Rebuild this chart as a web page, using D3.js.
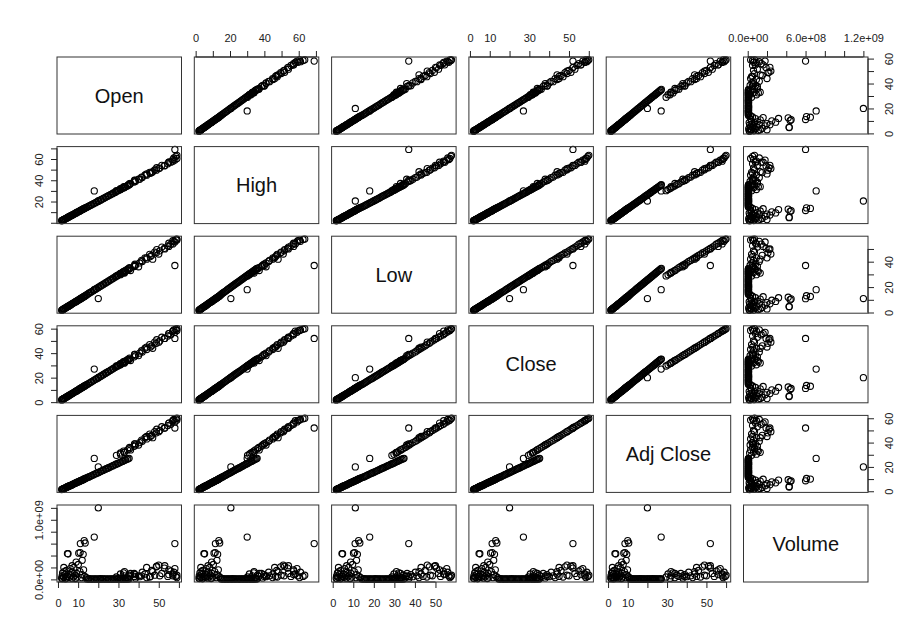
<!DOCTYPE html>
<html><head><meta charset="utf-8">
<script src="https://cdn.jsdelivr.net/npm/d3@7"></script>
<style>body{margin:0;background:#fff}svg{font-family:"Liberation Sans",Arial,sans-serif}</style>
</head><body><svg id="c" width="924" height="639"></svg>
<script>
const varNames = ["Open","High","Low","Close","Adj Close","Volume"];
const open = [1.8,2.1,2.2,2.3,2.7,2.9,3.0,3.5,3.7,4.1,4.2,4.7,4.9,5.4,5.6,6.1,6.3,6.9,7.1,7.7,7.9,8.5,8.7,9.3,9.5,10.1,10.3,10.9,11.1,11.7,11.9,12.5,12.7,13.3,13.5,14.1,
 14.4,15.1,15.5,16.3,16.7,17.5,17.9,18.7,19.1,19.9,20.3,21.1,21.5,22.3,22.7,23.5,23.9,24.7,25.1,25.9,26.3,27.1,27.5,28.3,28.7,29.5,29.9,30.7,31.1,31.9,32.3,33.1,33.5,34.3,34.7,35.3,
 29.0,31.0,31.0,32.8,32.5,34.5,35.5,35.5,37.8,38.5,38.2,40.5,41.8,41.5,44.0,43.2,45.8,46.5,45.5,48.8,48.0,50.5,49.0,52.8,51.5,54.5,56.0,55.0,58.0,57.0,59.0,57.5,58.5,59.0,
 18,20,58,
 36,40,47,50,53,55,57,44,38,33,
 5,11,13,3,9,12,7];
const high = [1.9,2.1,2.3,2.5,2.7,3.0,3.2,3.5,3.8,4.1,4.4,4.8,5.1,5.5,5.9,6.2,6.6,7.0,7.4,7.8,8.2,8.7,9.1,9.5,9.9,10.3,10.7,11.1,11.5,12.0,12.4,12.8,13.2,13.6,14.0,14.4,
 14.8,15.3,15.9,16.5,17.1,17.7,18.3,18.9,19.5,20.1,20.7,21.3,21.9,22.5,23.1,23.7,24.4,25.0,25.6,26.2,26.8,27.4,28.0,28.6,29.2,29.8,30.4,31.0,31.6,32.3,32.9,33.5,34.1,34.7,35.3,35.8,
 30.2,31.3,32.2,33.0,33.8,34.8,36.0,36.8,38.3,39.0,39.8,41.0,42.5,43.0,44.8,45.0,46.5,47.2,47.5,49.5,49.8,51.5,51.8,53.5,54.0,55.5,57.0,57.0,59.0,59.5,60.5,61.0,62.5,63.5,
 30,20.5,69,
 37,41,48,51,54,57,58,46,40,34,
 5.2,11.4,13.5,3.2,9.3,12.4,7.2];
const low = [1.7,1.9,2.1,2.3,2.5,2.8,3.0,3.3,3.6,3.9,4.2,4.5,4.8,5.1,5.5,5.8,6.2,6.6,7.0,7.4,7.8,8.1,8.5,8.9,9.3,9.7,10.1,10.5,10.9,11.3,11.6,12.0,12.4,12.8,13.2,13.6,
 14.2,14.8,15.4,16.0,16.5,17.1,17.7,18.3,18.9,19.5,20.1,20.7,21.3,21.9,22.5,23.1,23.6,24.2,24.8,25.4,26.0,26.6,27.2,27.8,28.4,29.0,29.6,30.2,30.7,31.3,31.9,32.5,33.1,33.7,34.3,34.7,
 28.8,29.8,30.8,31.5,32.2,33.2,34.2,35.3,36.2,37.2,38.0,39.0,40.2,41.0,42.0,43.0,44.0,45.0,45.8,47.0,47.5,48.5,49.5,50.5,51.5,52.5,53.8,54.5,55.5,56.5,57.0,56.0,57.5,57.8,
 18,11,37,
 33,36,42,46,50,52,54,43,37,31,
 4.8,10.7,12.6,2.9,8.7,11.6,6.8];
const close = [1.8,2.0,2.2,2.4,2.6,2.9,3.1,3.4,3.7,4.0,4.3,4.6,5.0,5.3,5.7,6.0,6.4,6.8,7.2,7.6,8.0,8.4,8.8,9.2,9.6,10.0,10.4,10.8,11.2,11.6,12.0,12.4,12.8,13.2,13.6,14.0,
 14.5,15.0,15.6,16.2,16.8,17.4,18.0,18.6,19.2,19.8,20.4,21.0,21.6,22.2,22.8,23.4,24.0,24.6,25.2,25.8,26.4,27.0,27.6,28.2,28.8,29.4,30.0,30.6,31.2,31.8,32.4,33.0,33.6,34.2,34.8,35.2,
 29.5,30.5,31.5,32.0,33.0,34.0,35.0,36.0,37.0,38.0,39.0,40.0,41.0,42.0,43.0,44.0,45.0,46.0,47.0,48.0,49.0,50.0,51.0,52.0,53.0,54.0,55.0,56.0,57.0,58.0,58.5,59.0,59.5,60.0,
 27,20,52,
 34,38,44,49,52,56,58,45,39,32,
 5,11.2,13,3,9,12,7];
const adjClose = [1.4,1.5,1.7,1.8,2.0,2.2,2.4,2.6,2.8,3.1,3.3,3.5,3.9,4.1,4.4,4.6,4.9,5.2,5.5,5.9,6.2,6.5,6.8,7.1,7.4,7.7,8.0,8.3,8.6,8.9,9.2,9.5,9.9,10.2,10.5,10.8,
 11.2,11.6,12.0,12.5,12.9,13.4,13.9,14.3,14.8,15.2,15.7,16.2,16.6,17.1,17.6,18.0,18.5,18.9,19.4,19.9,20.3,20.8,21.3,21.7,22.2,22.6,23.1,23.6,24.0,24.5,24.9,25.4,25.9,26.3,26.8,27.1,
 29.5,30.5,31.5,32.0,33.0,34.0,35.0,36.0,37.0,38.0,39.0,40.0,41.0,42.0,43.0,44.0,45.0,46.0,47.0,48.0,49.0,50.0,51.0,52.0,53.0,54.0,55.0,56.0,57.0,58.0,58.5,59.0,59.5,60.0,
 27,20,52,
 34,38,44,49,52,56,58,45,39,32,
 3.9,8.6,10,2.3,6.9,9.2,5.4];
const volume = [2e7,6e7,1.5e7,1.1e8,4e7,2e8,3e7,8e7,1e7,1.5e8,2.5e7,4.3e8,5e7,9e7,3.5e7,1.8e8,6e7,2e7,1.2e8,4.5e7,2e8,7e7,1.5e7,1e8,4e7,2.5e8,4.4e8,1.3e8,6e8,3e7,8e7,4.2e8,1.6e8,5e7,6.1e8,3e7,
 8e6,5e6,1.2e7,6e6,9e6,4e6,7e6,1e7,5e6,8e6,6e6,1.1e7,4e6,7e6,9e6,5e6,8e6,6e6,1e7,4e6,7e6,9e6,5e6,8e6,6e6,1.1e7,5e6,7e6,9e6,4e6,8e6,6e6,1e7,5e6,7e6,9e6,
 4e7,9e7,2e7,6e7,1.1e8,3e7,7e7,5e7,1e8,2.5e7,8e7,4.5e7,1.2e8,6e7,3e7,9e7,5e7,1.5e8,4e7,2.1e8,7e7,6e7,2.2e8,1.9e8,1e8,5e7,1.4e8,8e7,1.8e8,6e7,3e7,1.2e8,5e7,7e7,
 7.1e8,1.2e9,6e8,
 1.0e8,6e7,1.3e8,2.4e8,2.3e8,1.6e8,9e7,2.0e8,5e7,1.3e8,
 4.3e8,4.5e8,6.5e8,1.3e8,2.9e8,3.2e8,2.3e8];
const tickValues = [d3.range(0,61,10), d3.range(0,71,10), d3.range(0,51,10), d3.range(0,61,10), d3.range(0,61,10), d3.range(0,1.21e9,2e8)];
const hLabels = [[0,10,30,50],[0,20,40,60],[0,10,20,30,40,50],[0,10,30,50],[0,10,30,50],[0,6e8,1.2e9]];
const vLabels = [[0,20,40,60],[20,40,60],[0,20,40],[0,20,40,60],[0,20,40,60],[0,1e9]];

const cols = [open, high, low, close, adjClose, volume];
const svg = d3.select("#c");
const X0 = 57, Y0 = 57, PW = 124.5, PH = 77, SX = 137.3, SY = 89.6;
const n = cols.length;
function fmt(k, v) {
  if (k !== 5) return String(v);
  const s = v.toExponential(1).split("e");
  const e = parseInt(s[1]);
  return s[0] + "e" + (e < 0 ? "-" : "+") + String(Math.abs(e)).padStart(2, "0");
}
const xs = [], ys = [];
for (let k = 0; k < n; k++) {
  const ext = d3.extent(cols[k]);
  const pad = (ext[1] - ext[0]) * 0.04;
  const dom = [ext[0] - pad, ext[1] + pad];
  xs.push(d3.scaleLinear().domain(dom).range([0, PW]));
  ys.push(d3.scaleLinear().domain(dom).range([PH, 0]));
}
function drawAxis(g, k, orient, scale) {
  const dom = scale.domain();
  const tv = tickValues[k].filter(v => v >= Math.min(...dom) && v <= Math.max(...dom));
  const labels = (orient === "top" || orient === "bottom") ? hLabels[k] : vLabels[k];
  const gen = {top: d3.axisTop, bottom: d3.axisBottom, left: d3.axisLeft, right: d3.axisRight}[orient](scale)
    .tickValues(tv).tickSize(6).tickSizeOuter(0)
    .tickFormat(v => labels.some(l => Math.abs(l - v) < 1e-6 * Math.max(1, Math.abs(l))) ? fmt(k, v) : "");
  g.call(gen);
  g.select(".domain").remove();
  g.selectAll(".tick line").attr("stroke", "#222");
  g.selectAll("text").attr("font-size", 11).attr("fill", "#222").attr("font-family", '"Liberation Sans",Arial,sans-serif');
  const a = scale(tv[0]), b = scale(tv[tv.length - 1]);
  if (orient === "top" || orient === "bottom") {
    g.append("line").attr("x1", a).attr("x2", b).attr("stroke", "#222");
    if (orient === "top") g.selectAll("text").attr("y", -15).attr("dy", 0);
    else g.selectAll("text").attr("y", 25).attr("dy", 0);
  } else {
    g.append("line").attr("y1", a).attr("y2", b).attr("stroke", "#222");
    g.selectAll("text").attr("transform", "rotate(-90)").attr("text-anchor", "middle")
      .attr("x", 0).attr("dy", 0).attr("y", orient === "left" ? -14 : 25);
  }
}
for (let i = 0; i < n; i++) {
  for (let j = 0; j < n; j++) {
    const px = X0 + j * SX, py = Y0 + i * SY;
    const g = svg.append("g").attr("transform", `translate(${px},${py})`);
    if (i === j) {
      g.append("text").attr("x", PW / 2).attr("y", PH / 2 + 7).attr("text-anchor", "middle")
        .attr("font-size", 20).attr("fill", "#111").text(varNames[i]);
    } else {
      const idx = d3.range(cols[j].length);
      g.selectAll("circle").data(idx).join("circle")
        .attr("cx", d => xs[j](cols[j][d])).attr("cy", d => ys[i](cols[i][d]))
        .attr("r", 3.1).attr("fill", "none").attr("stroke", "#000").attr("stroke-width", 1.1);
    }
    g.append("rect").attr("width", PW).attr("height", PH).attr("fill", "none").attr("stroke", "#333").attr("stroke-width", 1);
    if (i === 0 && j % 2 === 1) drawAxis(g.append("g"), j, "top", xs[j]);
    if (i === n - 1 && j % 2 === 0) drawAxis(g.append("g").attr("transform", `translate(0,${PH})`), j, "bottom", xs[j]);
    if (j === 0 && i % 2 === 1) drawAxis(g.append("g"), i, "left", ys[i]);
    if (j === n - 1 && i % 2 === 0) drawAxis(g.append("g").attr("transform", `translate(${PW},0)`), i, "right", ys[i]);
  }
}
</script></body></html>
